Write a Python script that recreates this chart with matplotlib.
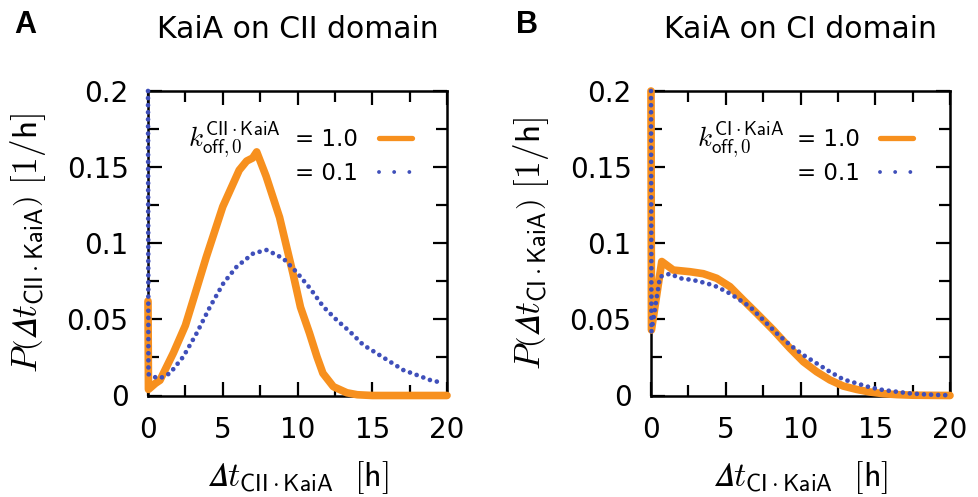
import matplotlib
matplotlib.use("Agg")
import matplotlib.pyplot as plt
from matplotlib.lines import Line2D
from matplotlib.ticker import MultipleLocator
from matplotlib.mathtext import MathTextParser

plt.rcParams['mathtext.fontset'] = 'cm'

# ---- data ----
# Panel A: KaiA on CII domain
a_x_k10 = [0, 0.03, 0.5, 0.8, 1.7, 2.5, 3.0, 3.9, 5.0, 6.1, 6.6, 7.0, 7.27, 7.9, 8.8, 9.7,
           10.2, 10.8, 11.3, 11.7, 12.4, 13.3, 14.0, 15.0, 20.0]
a_y_k10 = [0.062, 0.004, 0.008, 0.010, 0.028, 0.046, 0.062, 0.091, 0.124, 0.148, 0.154, 0.156,
           0.160, 0.144, 0.117, 0.080, 0.058, 0.041, 0.0255, 0.0146, 0.0058, 0.0018, 0.0005, 0.0, 0.0]
a_x_k01 = [0, 0.03, 0.36, 0.8, 1.47, 2.36, 3.26, 4.15, 5.04, 5.93, 7.05, 7.94, 9.05, 9.94,
           10.84, 11.73, 12.62, 13.51, 14.4, 15.3, 16.19, 17.08, 17.97, 18.86, 19.65]
a_y_k01 = [0.2, 0.014, 0.0123, 0.0113, 0.0146, 0.0255, 0.041, 0.0583, 0.0737, 0.0846, 0.0934,
           0.0956, 0.090, 0.081, 0.0704, 0.0583, 0.0496, 0.0419, 0.0332, 0.0277, 0.0222, 0.0167,
           0.0135, 0.0102, 0.0084]
# Panel B: KaiA on CI domain
b_x_k10 = [0, 0.03, 0.72, 1.49, 2.61, 3.5, 4.39, 5.28, 6.17, 7.07, 8.18, 9.3, 10.19, 11.08,
           11.97, 12.86, 13.75, 14.64, 15.53, 16.42, 17.5, 20.0]
b_y_k10 = [0.2, 0.043, 0.088, 0.0824, 0.0813, 0.080, 0.077, 0.0715, 0.0627, 0.054, 0.043, 0.031,
           0.0222, 0.0156, 0.0102, 0.0062, 0.004, 0.0023, 0.0012, 0.0006, 0.0002, 0.0]
b_x_k01 = [0, 0.03, 0.6, 1.27, 1.94, 2.83, 3.72, 4.39, 5.28, 5.95, 6.62, 7.51, 8.41, 9.3, 10.19,
           11.08, 11.97, 12.86, 13.75, 14.64, 15.53, 16.42, 17.31, 18.2, 19.3, 20.0]
b_y_k01 = [0.2, 0.042, 0.078, 0.080, 0.077, 0.0758, 0.0737, 0.0715, 0.067, 0.0627, 0.0583, 0.0496,
           0.0408, 0.0332, 0.0266, 0.0211, 0.0156, 0.0106, 0.008, 0.0054, 0.0036, 0.0025, 0.0014,
           0.0008, 0.0003, 0.0002]

x_ticks = [0, 5, 10, 15, 20]
y_ticks = [0, 0.05, 0.1, 0.15, 0.2]
y_tick_labels = ['0', '0.05', '0.1', '0.15', '0.2']
titles = ['KaiA on CII domain', 'KaiA on CI domain']
panel_letters = ['A', 'B']
domains = ['CII', 'CI']
legend_labels = ['= 1.0', '= 0.1']

ORANGE = '#f7901e'
BLUE = '#3f4fba'
W, H = 979, 497
SANS = 'DejaVu Sans'

# italic capital Delta (mathematical italic), fall back to \Delta if unsupported
DELTA = '\U0001D6E5'
try:
    MathTextParser('agg').parse('$%s t$' % DELTA, dpi=100)
except Exception:
    DELTA = r'\Delta'

fig = plt.figure(figsize=(W / 100, H / 100), dpi=100)

def fx(px):
    return px / W

def fy(py):
    return 1 - py / H

axes_px = [(148, 447), (651, 950)]
top_px, bot_px = 91, 395.5

data = [(a_x_k10, a_y_k10, a_x_k01, a_y_k01), (b_x_k10, b_y_k10, b_x_k01, b_y_k01)]

for i, (l, r) in enumerate(axes_px):
    ax = fig.add_axes([fx(l), fy(bot_px), (r - l) / W, (bot_px - top_px) / H])
    x1, y1, x2, y2 = data[i]
    ax.plot(x1, y1, color=ORANGE, lw=5.5, solid_capstyle='round', solid_joinstyle='round',
            clip_on=False, zorder=3)
    ax.plot(x2, y2, color=BLUE, lw=3.4, linestyle=(0, (0.001, 1.5)), dash_capstyle='round',
            clip_on=False, zorder=4)
    ax.set_xlim(0, 20)
    ax.set_ylim(0, 0.2)
    ax.set_xticks(x_ticks)
    ax.set_yticks(y_ticks)
    ax.set_yticklabels(y_tick_labels)
    ax.xaxis.set_minor_locator(MultipleLocator(2.5))
    ax.yaxis.set_minor_locator(MultipleLocator(0.025))
    ax.tick_params(which='both', direction='in', top=True, right=True, width=1.6,
                   labelsize=20)
    ax.tick_params(axis='x', pad=15)
    ax.tick_params(axis='y', pad=14)
    ax.tick_params(which='major', length=10)
    ax.tick_params(which='minor', length=8)
    for lab in ax.get_xticklabels() + ax.get_yticklabels():
        lab.set_fontfamily(SANS)
    for sp in ax.spines.values():
        sp.set_linewidth(1.8)
    d = domains[i]
    ax.set_xlabel(r'$%s t_{\mathsf{%s\cdot KaiA}}\ \ \mathsf{[h]}$' % (DELTA, d), fontsize=24.5)
    ax.xaxis.set_label_coords(0.5, -0.21)
    ax.set_ylabel(r'$P\left(%s t_{\mathsf{%s\cdot KaiA}}\right)\ \mathsf{[1/h]}$' % (DELTA, d),
                  fontsize=25.5)
    ax.yaxis.set_label_coords(-0.335, 0.5)
    ax.text(0.5, (bot_px - 38) / (bot_px - top_px), titles[i], transform=ax.transAxes,
            ha='center', va='baseline', fontsize=21.5, fontfamily=SANS)

    # legend block
    kx = 188 if i == 0 else 697
    eqx = 295 if i == 0 else 797
    lx0 = 377 if i == 0 else 878
    fig.text(fx(kx), fy(147), r'$k^{\mathsf{%s\cdot KaiA}}_{\mathsf{off,0}}$' % d,
             fontsize=19.5, va='baseline', ha='left')
    fig.text(fx(eqx), fy(146.5), legend_labels[0], fontsize=16.5, fontfamily=SANS,
             va='baseline', ha='left')
    fig.text(fx(eqx), fy(180), legend_labels[1], fontsize=16.5, fontfamily=SANS,
             va='baseline', ha='left')
    fig.add_artist(Line2D([fx(lx0 + 2), fx(lx0 + 35)], [fy(138), fy(138)], color=ORANGE,
                          lw=3.8, solid_capstyle='round', transform=fig.transFigure))
    fig.add_artist(Line2D([fx(lx0 + 2), fx(lx0 + 36)], [fy(172), fy(172)], color=BLUE,
                          lw=2.8, linestyle=(0, (0.001, 3.9)), dash_capstyle='round',
                          transform=fig.transFigure))

fig.text(fx(14), fy(33.5), panel_letters[0], fontsize=22, fontweight='bold',
         fontfamily='Liberation Sans', va='baseline')
fig.text(fx(516), fy(33.5), panel_letters[1], fontsize=22, fontweight='bold',
         fontfamily='Liberation Sans', va='baseline')

fig.savefig('out.png', dpi=100)
